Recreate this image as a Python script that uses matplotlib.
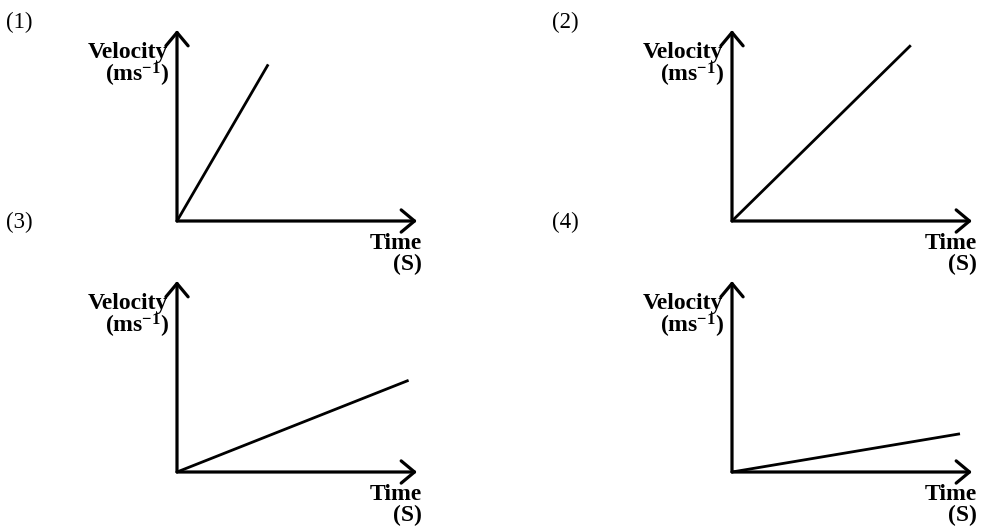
import matplotlib
matplotlib.use("Agg")
import matplotlib.pyplot as plt

plt.rcParams["font.family"] = "Liberation Serif"
plt.rcParams["mathtext.fontset"] = "custom"
plt.rcParams["mathtext.rm"] = "Liberation Serif"
plt.rcParams["mathtext.bf"] = "Liberation Serif:bold"

# panel labels and the end point (time, velocity) of each straight line
panel_labels = ["(1)", "(2)", "(3)", "(4)"]
end_time = [3.8, 7.45, 9.65, 9.5]
end_velocity = [8.2, 9.2, 4.8, 2.0]

W, H = 984, 526
# origin of each panel in pixels (x, y from top)
origins = [(177, 221), (732, 221), (177, 472), (732, 472)]
label_pos = [(6, 22), (552, 22), (6, 222), (552, 222)]
ax_w, ax_h = 240, 191

fig = plt.figure(figsize=(W / 100, H / 100), dpi=100)

for i in range(4):
    ox, oy = origins[i]
    ax = fig.add_axes([ox / W, (H - oy) / H, ax_w / W, ax_h / H])
    ax.set_xlim(0, 10)
    ax.set_ylim(0, 10)
    ax.axis("off")

    # axes drawn as open arrows
    arrow = dict(arrowstyle="->,head_length=0.6,head_width=0.5", lw=2.3,
                 color="black", mutation_scale=16, shrinkA=0, shrinkB=0)
    ax.annotate("", xy=(1.0, 0), xytext=(0, 0), xycoords="axes fraction",
                arrowprops=arrow, annotation_clip=False)
    ax.annotate("", xy=(0, 1.0), xytext=(0, 0), xycoords="axes fraction",
                arrowprops=arrow, annotation_clip=False)

    ax.plot([0, end_time[i]], [0, end_velocity[i]], color="black", lw=2.0,
            solid_capstyle="butt", clip_on=False)

    ax.text(-0.035, 0.88, "Velocity", transform=ax.transAxes, ha="right",
            va="center", fontsize=17, fontweight="bold")
    ax.text(-0.035, 0.765, r"$\mathbf{(ms^{-1})}$", transform=ax.transAxes,
            ha="right", va="center", fontsize=17)
    ax.text(1.02, -0.12, "Time", transform=ax.transAxes, ha="right",
            va="center", fontsize=17, fontweight="bold")
    ax.text(1.02, -0.23, "(S)", transform=ax.transAxes, ha="right",
            va="center", fontsize=17, fontweight="bold")

    lx, ly = label_pos[i]
    fig.text(lx / W, (H - ly) / H, panel_labels[i], ha="left", va="center",
             fontsize=16.5)

fig.savefig("out.png", dpi=100, facecolor="white")
